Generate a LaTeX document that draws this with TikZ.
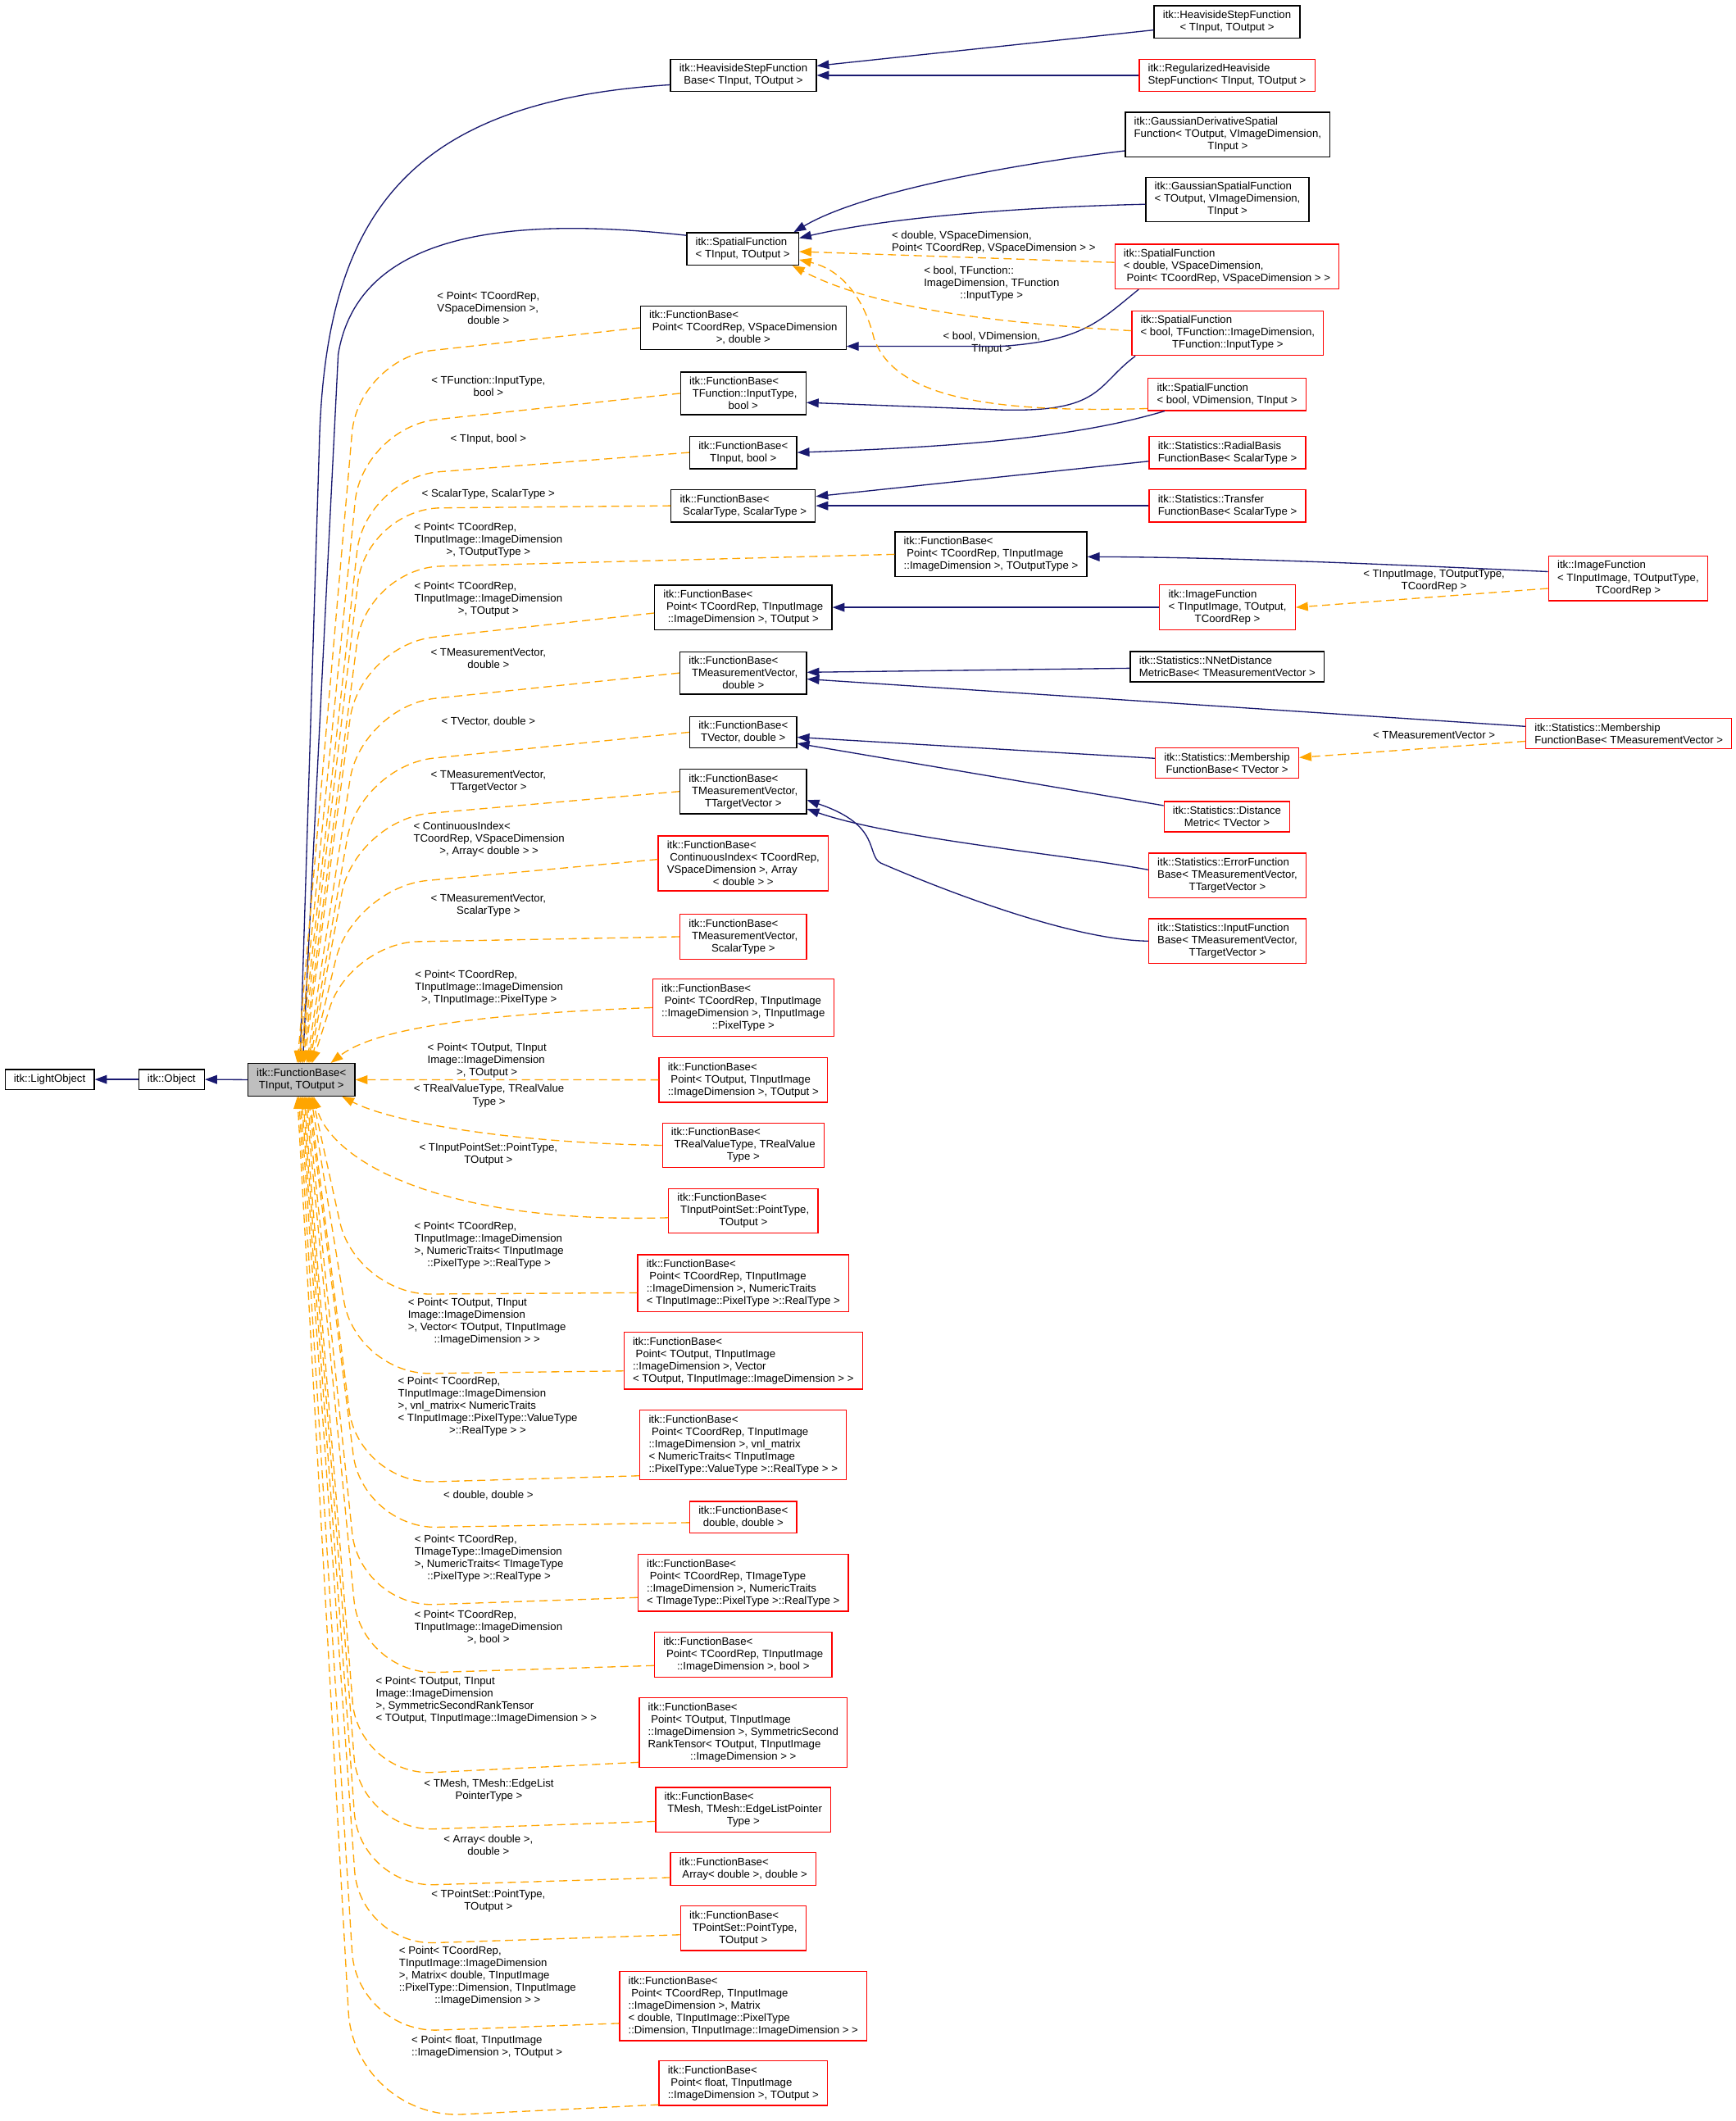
\documentclass[tikz,border=0pt]{standalone}
\usepackage{fontspec}
\setmainfont{Liberation Sans}
\usetikzlibrary{arrows.meta}
\definecolor{dxnavy}{HTML}{191970}
\definecolor{dxorange}{HTML}{FFA500}
\definecolor{dxred}{HTML}{FF0000}
\definecolor{dxgray}{HTML}{BFBFBF}
\newcommand{\dxfont}{\fontsize{8}{9.1}\selectfont}
\newcommand{\lastln}[1]{\hfill#1\hfill\null}
\begin{document}
\begin{tikzpicture}[x=1pt,y=-1pt,
  cls/.style={rectangle,draw=black,line width=0.8pt,fill=white,
    inner xsep=6.5pt,inner ysep=3.7pt,align=left,font=\dxfont},
  ext/.style={cls,draw=dxred},
  cur/.style={cls,fill=dxgray},
  lbl/.style={align=left,font=\dxfont,inner sep=0pt},
  inh/.style={-{Triangle[length=9pt,width=6.5pt]},dxnavy,line width=0.8pt},
  tpl/.style={-{Triangle[length=9pt,width=6.5pt]},dxorange,line width=0.8pt,
    dash pattern=on 6pt off 3.5pt}
]
\path[use as bounding box,fill=white] (0,0) rectangle (1283,1568);

% base classes
\node[cls] (lo) at (36.7,798) {itk::LightObject};
\node[cls] (ob) at (126.8,798) {itk::Object};
\node[cur] (fb) at (222.8,798.2) {itk::FunctionBase<\\\lastln{TInput, TOutput >}};

% derived classes, middle column
\node[cls] (hsfb) at (549.5,55.7) {itk::HeavisideStepFunction\\\lastln{Base< TInput, TOutput >}};
\node[cls] (sf) at (549,184) {itk::SpatialFunction\\\lastln{< TInput, TOutput >}};
\node[cls] (f1) at (549.4,242.3) {itk::FunctionBase<\\\ Point< TCoordRep, VSpaceDimension\\\lastln{>, double >}};
\node[cls] (f2) at (549.4,290.8) {itk::FunctionBase<\\\ TFunction::InputType,\\\lastln{bool >}};
\node[cls] (f3) at (549.4,334.5) {itk::FunctionBase<\\\lastln{TInput, bool >}};
\node[cls] (f4) at (549.4,373.9) {itk::FunctionBase<\\\lastln{\ ScalarType, ScalarType >}};
\node[cls] (f5) at (732.5,409.8) {itk::FunctionBase<\\\ Point< TCoordRep, TInputImage\\\lastln{::ImageDimension >, TOutputType >}};
\node[cls] (f6) at (549.4,449.2) {itk::FunctionBase<\\\ Point< TCoordRep, TInputImage\\\lastln{::ImageDimension >, TOutput >}};
\node[cls] (f7) at (549.4,497.5) {itk::FunctionBase<\\\ TMeasurementVector,\\\lastln{double >}};
\node[cls] (f8) at (549.4,541.3) {itk::FunctionBase<\\\lastln{TVector, double >}};
\node[cls] (f9) at (549.4,585.1) {itk::FunctionBase<\\\ TMeasurementVector,\\\lastln{TTargetVector >}};
\node[ext] (f10) at (549.4,638.3) {itk::FunctionBase<\\\ ContinuousIndex< TCoordRep,\\VSpaceDimension >, Array\\\lastln{< double > >}};
\node[ext] (f11) at (549.4,692.5) {itk::FunctionBase<\\\ TMeasurementVector,\\\lastln{ScalarType >}};
\node[ext] (f12) at (549.4,744.9) {itk::FunctionBase<\\\ Point< TCoordRep, TInputImage\\::ImageDimension >, TInputImage\\\lastln{::PixelType >}};
\node[ext] (f13) at (549.4,798.3) {itk::FunctionBase<\\\ Point< TOutput, TInputImage\\\lastln{::ImageDimension >, TOutput >}};
\node[ext] (f14) at (549.4,846.7) {itk::FunctionBase<\\\ TRealValueType, TRealValue\\\lastln{Type >}};
\node[ext] (f15) at (549.4,895.2) {itk::FunctionBase<\\\ TInputPointSet::PointType,\\\lastln{TOutput >}};
\node[ext] (f16) at (549.4,948.7) {itk::FunctionBase<\\\ Point< TCoordRep, TInputImage\\::ImageDimension >, NumericTraits\\\lastln{< TInputImage::PixelType >::RealType >}};
\node[ext] (f17) at (549.4,1005.9) {itk::FunctionBase<\\\ Point< TOutput, TInputImage\\::ImageDimension >, Vector\\\lastln{< TOutput, TInputImage::ImageDimension > >}};
\node[ext] (f18) at (549.4,1068.2) {itk::FunctionBase<\\\ Point< TCoordRep, TInputImage\\::ImageDimension >, vnl\_matrix\\< NumericTraits< TInputImage\\\lastln{::PixelType::ValueType >::RealType > >}};
\node[ext] (f19) at (549.4,1121.6) {itk::FunctionBase<\\\lastln{double, double >}};
\node[ext] (f20) at (549.4,1170) {itk::FunctionBase<\\\ Point< TCoordRep, TImageType\\::ImageDimension >, NumericTraits\\\lastln{< TImageType::PixelType >::RealType >}};
\node[ext] (f21) at (549.4,1223.3) {itk::FunctionBase<\\\ Point< TCoordRep, TInputImage\\\lastln{::ImageDimension >, bool >}};
\node[ext] (f22) at (549.4,1280.8) {itk::FunctionBase<\\\ Point< TOutput, TInputImage\\::ImageDimension >, SymmetricSecond\\RankTensor< TOutput, TInputImage\\\lastln{::ImageDimension > >}};
\node[ext] (f23) at (549.4,1338) {itk::FunctionBase<\\\ TMesh, TMesh::EdgeListPointer\\\lastln{Type >}};
\node[ext] (f24) at (549.4,1381.7) {itk::FunctionBase<\\\lastln{\ Array< double >, double >}};
\node[ext] (f25) at (549.4,1425.5) {itk::FunctionBase<\\\ TPointSet::PointType,\\\lastln{TOutput >}};
\node[ext] (f26) at (549.4,1483) {itk::FunctionBase<\\\ Point< TCoordRep, TInputImage\\::ImageDimension >, Matrix\\< double, TInputImage::PixelType\\\lastln{::Dimension, TInputImage::ImageDimension > >}};
\node[ext] (f27) at (549.4,1540) {itk::FunctionBase<\\\ Point< float, TInputImage\\\lastln{::ImageDimension >, TOutput >}};

% derived classes, right columns
\node[cls] (hsf) at (907,16.2) {itk::HeavisideStepFunction\\\lastln{< TInput, TOutput >}};
\node[ext] (rhs) at (907,55.7) {itk::RegularizedHeaviside\\\lastln{StepFunction< TInput, TOutput >}};
\node[cls] (gds) at (907.5,99.5) {itk::GaussianDerivativeSpatial\\Function< TOutput, VImageDimension,\\\lastln{TInput >}};
\node[cls] (gsf) at (907.3,147.5) {itk::GaussianSpatialFunction\\< TOutput, VImageDimension,\\\lastln{TInput >}};
\node[ext] (sfd) at (907,197) {itk::SpatialFunction\\< double, VSpaceDimension,\\\lastln{\ Point< TCoordRep, VSpaceDimension > >}};
\node[ext] (sfbt) at (907.5,246.3) {itk::SpatialFunction\\< bool, TFunction::ImageDimension,\\\lastln{TFunction::InputType >}};
\node[ext] (sfbv) at (907,291.5) {itk::SpatialFunction\\\lastln{< bool, VDimension, TInput >}};
\node[ext] (rbf) at (907.3,334.5) {itk::Statistics::RadialBasis\\\lastln{FunctionBase< ScalarType >}};
\node[ext] (tfb) at (907.3,373.9) {itk::Statistics::Transfer\\\lastln{FunctionBase< ScalarType >}};
\node[ext] (ifa) at (1203.5,427.5) {itk::ImageFunction\\< TInputImage, TOutputType,\\\lastln{TCoordRep >}};
\node[ext] (ifb) at (907.3,449) {itk::ImageFunction\\< TInputImage, TOutput,\\\lastln{TCoordRep >}};
\node[cls] (nnd) at (907.2,492.9) {itk::Statistics::NNetDistance\\\lastln{MetricBase< TMeasurementVector >}};
\node[ext] (mfa) at (1204,542.4) {itk::Statistics::Membership\\\lastln{FunctionBase< TMeasurementVector >}};
\node[ext] (mfb) at (907,564.2) {itk::Statistics::Membership\\\lastln{FunctionBase< TVector >}};
\node[ext] (dmt) at (907,603.7) {itk::Statistics::Distance\\\lastln{Metric< TVector >}};
\node[ext] (efb) at (907.3,647.3) {itk::Statistics::ErrorFunction\\Base< TMeasurementVector,\\\lastln{TTargetVector >}};
\node[ext] (ifn) at (907.3,695.7) {itk::Statistics::InputFunction\\Base< TMeasurementVector,\\\lastln{TTargetVector >}};

% template argument labels
\node[lbl] (l1) at (361,227.7) {< Point< TCoordRep,\\VSpaceDimension >,\\\lastln{double >}};
\node[lbl] (l2) at (361,285.4) {< TFunction::InputType,\\\lastln{bool >}};
\node[lbl] (l3) at (361,324.8) {< TInput, bool >};
\node[lbl] (l4) at (361,365.3) {< ScalarType, ScalarType >};
\node[lbl] (l5) at (361,399.3) {< Point< TCoordRep,\\TInputImage::ImageDimension\\\lastln{>, TOutputType >}};
\node[lbl] (l6) at (361,442.8) {< Point< TCoordRep,\\TInputImage::ImageDimension\\\lastln{>, TOutput >}};
\node[lbl] (l7) at (361,486.7) {< TMeasurementVector,\\\lastln{double >}};
\node[lbl] (l8) at (361,533.3) {< TVector, double >};
\node[lbl] (l9) at (361,577.9) {< TMeasurementVector,\\\lastln{TTargetVector >}};
\node[lbl] (l10) at (361.5,620.3) {< ContinuousIndex<\\TCoordRep, VSpaceDimension\\\lastln{>, Array< double > >}};
\node[lbl] (l11) at (361,669.1) {< TMeasurementVector,\\\lastln{ScalarType >}};
\node[lbl] (l12) at (361.5,730.4) {< Point< TCoordRep,\\TInputImage::ImageDimension\\\lastln{>, TInputImage::PixelType >}};
\node[lbl] (l13) at (360,784) {< Point< TOutput, TInput\\Image::ImageDimension\\\lastln{>, TOutput >}};
\node[lbl] (l14) at (361.5,810.1) {< TRealValueType, TRealValue\\\lastln{Type >}};
\node[lbl] (l15) at (361,853.5) {< TInputPointSet::PointType,\\\lastln{TOutput >}};
\node[lbl] (l16) at (361.5,920.6) {< Point< TCoordRep,\\TInputImage::ImageDimension\\>, NumericTraits< TInputImage\\\lastln{::PixelType >::RealType >}};
\node[lbl] (l17) at (360,977.2) {< Point< TOutput, TInput\\Image::ImageDimension\\>, Vector< TOutput, TInputImage\\\lastln{::ImageDimension > >}};
\node[lbl] (l18) at (360.5,1039.9) {< Point< TCoordRep,\\TInputImage::ImageDimension\\>, vnl\_matrix< NumericTraits\\< TInputImage::PixelType::ValueType\\\lastln{>::RealType > >}};
\node[lbl] (l19) at (361,1105.5) {< double, double >};
\node[lbl] (l20) at (361.5,1152) {< Point< TCoordRep,\\TImageType::ImageDimension\\>, NumericTraits< TImageType\\\lastln{::PixelType >::RealType >}};
\node[lbl] (l21) at (361,1203.1) {< Point< TCoordRep,\\TInputImage::ImageDimension\\\lastln{>, bool >}};
\node[lbl] (l22) at (359.5,1256.9) {< Point< TOutput, TInput\\Image::ImageDimension\\>, SymmetricSecondRankTensor\\\lastln{< TOutput, TInputImage::ImageDimension > >}};
\node[lbl] (l23) at (361.4,1323.5) {< TMesh, TMesh::EdgeList\\\lastln{PointerType >}};
\node[lbl] (l24) at (361,1364) {< Array< double >,\\\lastln{double >}};
\node[lbl] (l25) at (361,1405.5) {< TPointSet::PointType,\\\lastln{TOutput >}};
\node[lbl] (l26) at (360.4,1460.8) {< Point< TCoordRep,\\TInputImage::ImageDimension\\>, Matrix< double, TInputImage\\::PixelType::Dimension, TInputImage\\\lastln{::ImageDimension > >}};
\node[lbl] (l27) at (360,1513) {< Point< float, TInputImage\\\lastln{::ImageDimension >, TOutput >}};
\node[lbl] (lr1) at (734.5,178.8) {< double, VSpaceDimension,\\\lastln{Point< TCoordRep, VSpaceDimension > >}};
\node[lbl] (lr2) at (733,209.5) {< bool, TFunction::\\ImageDimension, TFunction\\\lastln{::InputType >}};
\node[lbl] (lr3) at (733,253.8) {< bool, VDimension,\\\lastln{TInput >}};
\node[lbl] (lr4) at (1060,429.5) {< TInputImage, TOutputType,\\\lastln{TCoordRep >}};
\node[lbl] (lr5) at (1060,543.5) {< TMeasurementVector >};

% inheritance
\draw[inh] (ob.west) -- (lo.east);
\draw[inh] (fb.west) -- (ob.east);
\draw[inh] ([yshift=-7pt]hsfb.west) .. controls (300,75) and (240,160) .. (236,330) -- ([xshift=-1pt]fb.north);
\draw[inh] ([yshift=10pt]sf.west) .. controls (380,160) and (265,170) .. (250,262) -- ([xshift=1pt]fb.north);
\draw[inh] ([yshift=-6pt]hsf.west) -- ([yshift=7pt]hsfb.east);
\draw[inh] (rhs.west) -- (rhs.west -| hsfb.east);
\draw[inh] ([yshift=-12pt]gds.west) .. controls (760,120) and (640,140) .. ([xshift=-4pt]sf.north east);
\draw[inh] ([yshift=-3.5pt]gsf.west) .. controls (760,153) and (660,160) .. ([yshift=8pt]sf.east);
\draw[inh] ([xshift=18pt]sfd.south west) .. controls (812,238) and (800,252) .. (740,256) -- ([yshift=-13.7pt]f1.east);
\draw[inh] ([xshift=3pt]sfbt.south west) .. controls (810,285) and (815,305) .. (740,303) -- ([yshift=-6.8pt]f2.east);
\draw[inh] ([xshift=12.6pt]sfbv.south west) .. controls (800,322) and (720,330) .. (f3.east);
\draw[inh] ([yshift=-6.5pt]rbf.west) -- ([yshift=6.9pt]f4.east);
\draw[inh] (tfb.west) -- (tfb.west -| f4.east);
\draw[inh] ([yshift=4.9pt]ifa.west) .. controls (1000,416) and (900,412) .. ([yshift=-1.8pt]f5.east);
\draw[inh] (ifb.west) -- (ifb.west -| f6.east);
\draw[inh] ([yshift=-1.1pt]nnd.west) -- ([yshift=0.5pt]f7.east);
\draw[inh] ([yshift=5.4pt]mfa.west) -- ([yshift=-4.5pt]f7.east);
\draw[inh] ([yshift=3.6pt]mfb.west) -- ([yshift=-3.7pt]f8.east);
\draw[inh] ([yshift=-3.4pt]dmt.north west) -- ([yshift=-8.3pt]f8.east);
\draw[inh] ([yshift=4.3pt]efb.west) .. controls (790,632) and (660,620) .. ([yshift=-12.9pt]f9.east);
\draw[inh] (ifn.west) .. controls (790,695) and (690,655) .. (651,638) .. controls (640,632) and (652,610) .. ([yshift=-6.4pt]f9.east);

% template instantiations
\draw[tpl] ([yshift=3pt]sfd.west) -- ([yshift=-2pt]sf.east);
\draw[tpl] ([yshift=1.8pt]sfbt.west) .. controls (720,238) and (640,225) .. ([xshift=-5pt]sf.south east);
\draw[tpl] ([yshift=-10.5pt]sfbv.west) .. controls (720,306) and (660,290) .. (646,250) .. controls (640,225) and (625,200) .. ([yshift=-8pt]sf.east);
\draw[tpl] ([yshift=-7.5pt]ifa.west) -- (ifb.east);
\draw[tpl] ([yshift=-5.6pt]mfa.west) -- ([yshift=4.2pt]mfb.east);

\draw[tpl,rounded corners=55pt] (f1.west) -- (265,265) -- ([xshift=-3pt]fb.north);
\draw[tpl,rounded corners=55pt] (f2.west) -- (268,316) -- ([xshift=-2pt]fb.north);
\draw[tpl,rounded corners=55pt] (f3.west) -- (270,353) -- ([xshift=-1pt]fb.north);
\draw[tpl,rounded corners=55pt] (f4.west) -- (271,376) -- (fb.north);
\draw[tpl,rounded corners=55pt] (f5.west) -- (271,420) -- ([xshift=1pt]fb.north);
\draw[tpl,rounded corners=55pt] ([yshift=-4pt]f6.west) -- (266,477) -- ([xshift=2pt]fb.north);
\draw[tpl,rounded corners=55pt] (f7.west) -- (267,522) -- ([xshift=4pt]fb.north);
\draw[tpl,rounded corners=55pt] (f8.west) -- (266,566) -- ([xshift=5pt]fb.north);
\draw[tpl,rounded corners=55pt] (f9.west) -- (263,606) -- ([xshift=6pt]fb.north);
\draw[tpl,rounded corners=55pt] ([yshift=3pt]f10.west) -- (261,656) -- ([xshift=7pt]fb.north);
\draw[tpl,rounded corners=50pt] (f11.west) -- (259,697) -- ([xshift=8pt]fb.north);
\draw[tpl] (f12.west) .. controls (370,749) and (280,758) .. ([xshift=21.7pt]fb.north);
\draw[tpl] (f13.west) -- (fb.east);
\draw[tpl] (f14.west) .. controls (380,845) and (290,830) .. ([xshift=30pt]fb.south);
\draw[tpl] ([yshift=-5pt]f15.west) .. controls (330,905) and (245,860) .. ([xshift=9pt]fb.south);
\draw[tpl,rounded corners=55pt] ([yshift=-7pt]f16.west) -- (263,957) -- ([xshift=8pt]fb.south);
\draw[tpl,rounded corners=55pt] ([yshift=-7.6pt]f17.west) -- (263,1016) -- ([xshift=7pt]fb.south);
\draw[tpl,rounded corners=55pt] ([yshift=-22.8pt]f18.west) -- (265,1097) -- ([xshift=6pt]fb.south);
\draw[tpl,rounded corners=55pt] ([yshift=-4pt]f19.west) -- (268,1130) -- ([xshift=5pt]fb.south);
\draw[tpl,rounded corners=55pt] ([yshift=-11pt]f20.west) -- (266,1188) -- ([xshift=4pt]fb.south);
\draw[tpl,rounded corners=55pt] ([yshift=-8pt]f21.west) -- (267,1238) -- ([xshift=3pt]fb.south);
\draw[tpl,rounded corners=55pt] ([yshift=-22pt]f22.west) -- (265,1313) -- ([xshift=2pt]fb.south);
\draw[tpl,rounded corners=55pt] ([yshift=-8.5pt]f23.west) -- (266,1354) -- ([xshift=1pt]fb.south);
\draw[tpl,rounded corners=55pt] ([yshift=-6.3pt]f24.west) -- (266,1395) -- (fb.south);
\draw[tpl,rounded corners=55pt] ([yshift=-4.8pt]f25.west) -- (266,1438) -- ([xshift=-1pt]fb.south);
\draw[tpl,rounded corners=60pt] ([yshift=-12.8pt]f26.west) -- (264,1503) -- ([xshift=-2pt]fb.south);
\draw[tpl,rounded corners=80pt] ([yshift=1pt]f27.south west) -- (262,1567) -- ([xshift=-3pt]fb.south);
\end{tikzpicture}
\end{document}
